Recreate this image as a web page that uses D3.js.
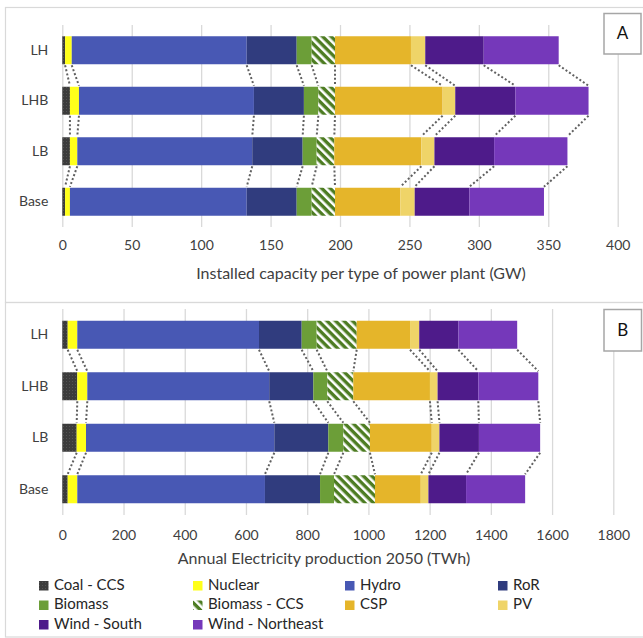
<!DOCTYPE html>
<html>
<head>
<meta charset="utf-8">
<script src="https://cdn.jsdelivr.net/npm/d3@7"></script>
<style>
  html, body { margin: 0; padding: 0; background: #fff; }
  svg { display: block; font-family: Lato, "Open Sans", sans-serif; }
</style>
</head>
<body>
<svg id="chart" width="643" height="638"></svg>
<script>
// ---------- DATA ----------
const categories = ["LH", "LHB", "LB", "Base"];
const seriesNames = ["Coal - CCS", "Nuclear", "Hydro", "RoR", "Biomass", "Biomass - CCS", "CSP", "PV", "Wind - South", "Wind - Northeast"];
const seriesColors = ["#3d3d3d", "#ffff1a", "#4858b4", "#303c7e", "#6c9e38", "#4d7c22", "#e5b52a", "#efd468", "#4e1b8a", "#7538ba"];

// Panel A: installed capacity (GW), values per category [LH, LHB, LB, Base]
const capCoal     = [2, 5.5, 5.5, 2];
const capNuclear  = [4.8, 6.5, 5.3, 3.5];
const capHydro    = [126, 126, 126, 127.3];
const capRoR      = [36, 36, 36.3, 36];
const capBiomass  = [10.8, 10.4, 10.1, 10.8];
const capBioCCS   = [16.8, 12, 12.7, 16.8];
const capCSP      = [54.7, 77.5, 62.7, 47.1];
const capPV       = [10.3, 9.1, 9.4, 10.3];
const capWindS    = [42.1, 43.3, 43, 39.4];
const capWindNE   = [54, 52.7, 52.8, 53.7];
const ticksA = [0, 50, 100, 150, 200, 250, 300, 350, 400];
const titleA = "Installed capacity per type of power plant (GW)";

// Panel B: annual electricity production 2050 (TWh)
const genCoal     = [17.6, 49, 47, 17.6];
const genNuclear  = [31.4, 32.7, 30.4, 31.4];
const genHydro    = [593.6, 594.3, 615.2, 613];
const genRoR      = [139.4, 144, 176.4, 180];
const genBiomass  = [49, 45.7, 49, 45.6];
const genBioCCS   = [130.7, 85, 87, 133.9];
const genCSP      = [174.3, 250.3, 202, 149.5];
const genPV       = [30, 25, 25, 25];
const genWindS    = [128, 133, 129, 123];
const genWindNE   = [192, 196, 200, 193];
const ticksB = [0, 200, 400, 600, 800, 1000, 1200, 1400, 1600, 1800];
const titleB = "Annual Electricity production 2050 (TWh)";

// ---------- DRAW ----------
const svg = d3.select("#chart");
const defs = svg.append("defs");

// Biomass-CCS stripes
const stripe = defs.append("pattern")
  .attr("id", "stripes").attr("patternUnits", "userSpaceOnUse")
  .attr("width", 6).attr("height", 6)
  .attr("patternTransform", "rotate(-45)");
stripe.append("rect").attr("width", 6).attr("height", 6).attr("fill", "#4d7c22");
stripe.append("rect").attr("x", 0).attr("width", 2.6).attr("height", 6).attr("fill", "#ffffff");

// Coal-CCS fine texture
const dots = defs.append("pattern")
  .attr("id", "dots").attr("patternUnits", "userSpaceOnUse")
  .attr("width", 3).attr("height", 3);
dots.append("rect").attr("width", 3).attr("height", 3).attr("fill", "#3c3c3c");
dots.append("rect").attr("width", 1).attr("height", 1).attr("fill", "#545454");

function fillFor(i) {
  if (i === 0) return "url(#dots)";
  if (i === 5) return "url(#stripes)";
  return seriesColors[i];
}

// Panel frames
svg.append("rect").attr("x", 5.5).attr("y", 7.5).attr("width", 650).attr("height", 295)
  .attr("fill", "none").attr("stroke", "#d9d9d9").attr("stroke-width", 1.2);
svg.append("rect").attr("x", 5.5).attr("y", 302.5).attr("width", 650).attr("height", 334.5)
  .attr("fill", "none").attr("stroke", "#d9d9d9").attr("stroke-width", 1.2);

function drawPanel(cfg) {
  const g = svg.append("g");
  const x = d3.scaleLinear().domain([0, cfg.ticks[cfg.ticks.length - 1]]).range([cfg.x0, cfg.x1]);
  const y = d3.scaleBand().domain(categories).range([cfg.y0, cfg.y1]).paddingInner(0.45).paddingOuter(0.225);
  const bh = 28;
  const yb = c => y(c) + y.bandwidth() / 2 - bh / 2;

  // gridlines
  g.append("g").attr("transform", `translate(0,${cfg.y1})`)
    .call(d3.axisBottom(x).tickValues(cfg.ticks).tickSize(-(cfg.y1 - cfg.y0)).tickFormat(""))
    .call(a => a.select(".domain").remove())
    .call(a => a.selectAll("line").attr("stroke", "#d9d9d9").attr("stroke-width", 1.3));

  // tick labels
  g.append("g").attr("transform", `translate(0,${cfg.y1})`)
    .call(d3.axisBottom(x).tickValues(cfg.ticks).tickSize(0).tickPadding(cfg.tickPad).tickFormat(d3.format("d")))
    .call(a => a.select(".domain").remove())
    .call(a => a.selectAll("text").attr("fill", "#404040").attr("font-size", 14).attr("font-family", "Lato, sans-serif"));

  // category labels
  g.append("g").attr("transform", `translate(${cfg.x0},0)`)
    .call(d3.axisLeft(y).tickSize(0).tickPadding(14))
    .call(a => a.select(".domain").remove())
    .call(a => a.selectAll("text").attr("fill", "#404040").attr("font-size", 14).attr("font-family", "Lato, sans-serif"));

  // stacked data
  const rows = categories.map((c, ci) => {
    const r = { cat: c };
    seriesNames.forEach((s, si) => { r[s] = cfg.series[si][ci]; });
    return r;
  });
  const stacked = d3.stack().keys(seriesNames)(rows);

  stacked.forEach((layer, si) => {
    g.append("g").selectAll("rect").data(layer).join("rect")
      .attr("x", d => x(d[0]))
      .attr("width", d => x(d[1]) - x(d[0]))
      .attr("y", d => yb(d.data.cat))
      .attr("height", bh)
      .attr("fill", fillFor(si));
  });

  // dotted connectors between adjacent bars
  const conn = g.append("g");
  for (let ci = 0; ci < categories.length - 1; ci++) {
    stacked.forEach(layer => {
      const a = layer[ci], b = layer[ci + 1];
      conn.append("line")
        .attr("x1", x(a[1])).attr("y1", yb(categories[ci]) + bh + 1)
        .attr("x2", x(b[1])).attr("y2", yb(categories[ci + 1]) - 1)
        .attr("stroke", "#606060").attr("stroke-width", 2)
        .attr("stroke-dasharray", "2,2.2");
    });
  }

  // axis title
  g.append("text").attr("x", cfg.titleX).attr("y", cfg.titleY)
    .attr("text-anchor", "middle").attr("dominant-baseline", "middle")
    .attr("fill", "#404040").attr("font-size", 16).attr("font-family", "Lato, sans-serif")
    .text(cfg.title);

  // panel letter box
  g.append("rect").attr("x", cfg.box[0]).attr("y", cfg.box[1]).attr("width", cfg.box[2]).attr("height", cfg.box[3])
    .attr("fill", "#fff").attr("stroke", "#a6a6a6").attr("stroke-width", 1.5);
  g.append("text").attr("x", cfg.box[0] + cfg.box[2] / 2).attr("y", cfg.box[1] + cfg.box[3] / 2 + 1)
    .attr("text-anchor", "middle").attr("dominant-baseline", "middle")
    .attr("fill", "#111").attr("font-size", 17).attr("font-family", "Lato, sans-serif")
    .text(cfg.letter);
}

drawPanel({
  series: [capCoal, capNuclear, capHydro, capRoR, capBiomass, capBioCCS, capCSP, capPV, capWindS, capWindNE],
  ticks: ticksA, x0: 62.3, x1: 617.7, y0: 25, y1: 227, tickPad: 13,
  title: titleA, titleX: 361, titleY: 275, letter: "A", box: [604, 13.5, 37, 40.5]
});
drawPanel({
  series: [genCoal, genNuclear, genHydro, genRoR, genBiomass, genBioCCS, genCSP, genPV, genWindS, genWindNE],
  ticks: ticksB, x0: 62.3, x1: 613.3, y0: 309, y1: 515, tickPad: 15,
  title: titleB, titleX: 324, titleY: 560, letter: "B", box: [604, 309.5, 37.5, 41.5]
});

// legend
const legendCols = [39, 193, 345, 498];
const legendRows = [586, 605.5, 625];
const legendOrder = [0, 1, 2, 3, 4, 5, 6, 7, 8, 9];
const lg = svg.append("g");
legendOrder.forEach((si, k) => {
  const cx = legendCols[k % 4], cy = legendRows[Math.floor(k / 4)];
  lg.append("rect").attr("x", cx).attr("y", cy - 5).attr("width", 9.5).attr("height", 9.5)
    .attr("fill", fillFor(si));
  lg.append("text").attr("x", cx + 15).attr("y", cy).attr("dominant-baseline", "middle")
    .attr("fill", "#262626").attr("font-size", 15).attr("font-family", "Lato, sans-serif")
    .text(seriesNames[si]);
});
</script>
</body>
</html>
